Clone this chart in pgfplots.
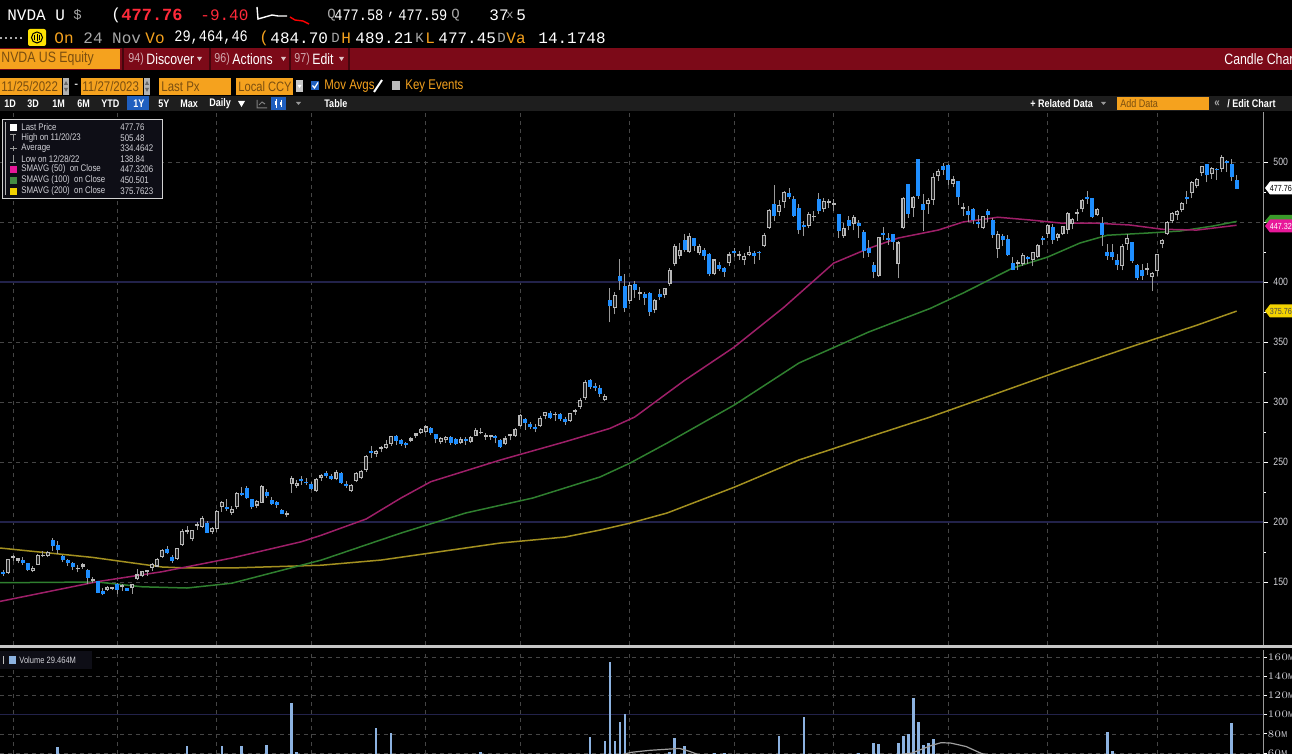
\documentclass[border=0pt]{standalone}
\usepackage{pgfplots}
\pgfplotsset{compat=1.18}
\usepackage{pgfplotstable}
\usepackage{fontspec}
\setmainfont{Liberation Sans}
\newfontfamily\nar{Liberation Sans}[FakeStretch=0.82]
\newfontfamily\mono{Liberation Mono}
\newfontfamily\monoc{Liberation Mono}[FakeStretch=0.85]
\newcommand\fs[1]{\fontsize{#1}{#1}\selectfont}
\newcommand\tx[4]{\node[anchor=west,inner sep=0pt,text=#2,font=#3] at (#1) {#4};}

\definecolor{bbred}{HTML}{7C0A18}
\definecolor{bbor}{HTML}{F5A21E}
\definecolor{bbortxt}{HTML}{7A4E10}
\definecolor{pxred}{HTML}{FF2A3A}
\definecolor{lbl}{HTML}{D2D2D8}
\definecolor{dimg}{HTML}{A8A8A8}
\definecolor{tbar}{HTML}{1E1E1E}
\definecolor{selblue}{HTML}{1F5FBF}
\definecolor{cblue}{HTML}{1E8EFF}
\definecolor{upc}{HTML}{B8B8B8}
\definecolor{upin}{HTML}{262626}
\definecolor{wickc}{HTML}{9A9A9A}
\definecolor{smaA}{HTML}{9E1F68}
\definecolor{smaB}{HTML}{2F7F2F}
\definecolor{smaC}{HTML}{A39020}
\definecolor{gridc}{HTML}{454545}
\definecolor{navyc}{HTML}{22224A}
\definecolor{volc}{HTML}{8CB2E0}
\definecolor{axc}{HTML}{9A9A9A}
\definecolor{magtag}{HTML}{E8189A}
\definecolor{grntag}{HTML}{3A9A2A}
\definecolor{yeltag}{HTML}{F2D200}
\definecolor{legbg}{HTML}{0E0E16}

\pgfplotstableread{
i o h l c
0 162.0 164.5 160.5 163.2
1 162.5 164.0 157.5 158.3
2 158.6 159.8 155.2 156.8
3 157.5 169.5 156.5 169.2
4 170.0 172.6 167.3 171.0
5 167.5 170.4 165.5 169.6
6 168.0 170.5 164.5 166.1
7 165.9 166.2 159.0 160.4
8 159.0 163.5 158.0 161.9
9 164.5 173.6 164.0 172.9
10 171.5 176.0 170.8 172.6
11 172.0 175.8 170.5 175.2
12 185.0 187.0 176.0 180.1
13 180.5 184.0 173.0 176.5
14 171.5 172.5 166.5 168.5
15 168.0 169.5 163.5 165.8
16 166.0 167.0 160.0 162.3
17 160.5 164.5 158.0 161.6
18 162.5 166.0 161.0 164.9
19 160.0 160.5 148.5 153.4
20 150.5 154.3 149.0 152.1
21 150.7 150.9 140.5 141.2
22 142.2 145.0 138.8 140.4
23 143.0 147.0 142.3 146.0
24 144.0 146.2 143.0 146.1
25 148.5 149.0 140.3 143.2
26 145.7 148.5 142.5 147.5
27 144.9 145.2 142.3 142.6
28 144.7 148.7 140.3 148.6
29 152.8 160.6 151.4 156.3
30 155.1 159.2 154.2 159.1
31 158.3 160.1 155.1 160.0
32 162.0 166.0 159.0 165.1
33 162.9 169.6 162.7 169.0
34 170.8 177.8 170.0 177.0
35 177.7 180.2 173.0 173.8
36 171.0 172.5 165.9 167.7
37 169.4 178.6 168.2 178.4
38 180.9 193.8 180.3 192.6
39 191.6 196.9 189.7 192.0
40 185.5 193.5 183.8 193.2
41 197.0 199.9 193.5 197.5
42 196.0 204.7 195.0 203.7
43 199.4 200.8 190.8 191.0
44 191.6 196.0 189.6 195.4
45 194.5 210.0 192.0 209.4
46 212.5 217.8 208.7 217.0
47 212.0 219.0 209.2 211.0
48 207.5 213.0 206.0 211.0
49 212.3 225.4 210.6 224.5
50 223.1 229.0 222.0 222.9
51 228.5 230.0 219.0 220.0
52 219.0 219.5 210.5 212.7
53 213.7 218.0 211.6 217.8
54 216.1 231.0 215.8 229.7
55 225.4 227.2 220.4 222.0
56 218.0 221.0 214.2 214.7
57 216.8 217.6 211.5 213.9
58 210.0 211.0 206.3 206.6
59 205.5 209.4 203.8 207.5
60 232.0 238.0 224.0 236.6
61 230.0 235.0 228.5 232.9
62 236.0 238.6 231.2 234.4
63 233.0 237.0 231.0 232.2
64 232.0 233.0 226.5 227.8
65 225.5 236.5 225.0 236.0
66 236.5 240.0 234.0 239.0
67 240.5 242.5 237.0 238.0
68 238.5 240.2 235.0 236.0
69 235.5 243.0 234.8 241.5
70 241.0 242.0 232.0 232.9
71 232.0 234.0 228.0 229.6
72 226.0 232.0 225.0 230.5
73 234.0 241.5 233.0 240.6
74 237.0 243.5 235.5 242.3
75 243.5 256.0 242.0 255.4
76 259.5 263.0 253.5 257.3
77 256.5 260.0 254.0 259.0
78 261.0 263.0 258.0 261.9
79 262.0 268.0 261.0 264.7
80 265.0 272.0 263.5 271.9
81 272.0 272.5 264.0 267.8
82 268.0 269.5 263.5 265.3
83 266.0 267.0 262.0 264.1
84 267.5 270.5 266.5 269.8
85 272.0 274.5 270.0 273.8
86 274.5 278.5 273.5 277.8
87 275.0 281.0 274.0 279.6
88 278.5 279.5 272.5 274.5
89 273.0 273.5 265.5 268.8
90 266.5 271.0 265.0 270.4
91 268.0 271.5 266.0 270.5
92 271.0 272.0 264.5 266.0
93 269.0 270.0 264.0 265.0
94 266.0 270.5 265.0 269.5
95 269.0 270.5 264.5 267.9
96 267.0 272.0 266.0 270.5
97 272.0 278.0 271.5 276.5
98 274.0 278.5 273.0 274.9
99 271.0 274.0 268.5 271.5
100 271.0 272.0 268.5 271.0
101 271.0 272.5 265.5 270.4
102 268.5 269.0 261.5 262.4
103 265.0 271.5 264.0 269.6
104 272.0 273.5 268.0 272.3
105 272.0 278.0 271.0 277.5
106 280.0 290.0 279.0 289.1
107 285.5 286.5 277.0 282.6
108 281.5 283.5 277.5 278.8
109 278.0 282.0 275.0 277.5
110 280.0 288.5 279.0 287.0
111 288.5 292.0 285.5 291.5
112 291.0 292.5 285.5 286.7
113 289.0 291.5 284.0 290.1
114 290.0 291.0 284.5 285.5
115 286.0 287.5 281.0 283.4
116 284.0 291.0 283.5 290.6
117 292.0 294.5 289.0 293.1
118 296.0 303.0 294.0 301.8
119 303.0 318.0 302.0 316.8
120 318.0 319.0 311.0 312.6
121 312.5 316.0 309.5 311.8
122 312.0 314.0 304.5 306.9
123 302.0 307.0 300.5 305.4
124 385.0 394.8 366.3 379.8
125 378.0 392.0 373.0 389.5
126 405.0 419.4 393.0 401.1
127 397.0 407.0 375.0 378.3
128 384.0 400.0 382.0 397.7
129 398.0 401.0 386.5 393.3
130 390.0 396.0 385.0 391.7
131 390.0 391.5 381.0 386.5
132 391.0 391.5 372.0 374.8
133 377.0 386.0 374.0 385.1
134 390.0 394.5 385.0 387.7
135 389.0 395.0 386.5 394.8
136 398.5 411.5 397.0 410.2
137 415.0 431.5 413.0 430.0
138 422.0 432.5 419.5 426.5
139 435.0 440.0 425.0 426.9
140 425.0 440.5 424.0 438.1
141 436.5 437.0 426.0 430.3
142 424.0 432.0 422.5 430.3
143 426.5 428.5 418.5 422.1
144 423.0 424.0 405.0 406.3
145 407.0 419.0 405.5 418.8
146 414.0 417.0 409.0 411.2
147 411.5 412.5 404.5 408.2
148 415.5 425.0 413.0 423.0
149 425.2 428.5 420.5 424.1
150 421.5 426.0 418.5 423.0
151 418.0 424.5 414.5 421.8
152 422.5 430.0 421.5 425.0
153 424.0 426.0 415.0 421.8
154 424.5 426.0 418.5 424.0
155 430.0 441.0 429.0 439.0
156 445.0 461.0 444.0 459.8
157 465.0 480.9 451.0 454.7
158 458.0 468.0 455.0 464.6
159 467.0 476.0 462.0 474.9
160 474.5 478.0 469.0 470.8
161 469.0 471.5 454.0 455.2
162 462.0 465.0 440.0 443.1
163 447.5 451.0 438.0 446.1
164 447.0 458.0 445.0 456.8
165 454.0 459.0 451.0 454.5
166 469.0 474.0 456.5 459.0
167 461.0 470.0 458.0 467.5
168 466.0 469.0 462.0 467.3
169 464.6 469.0 459.0 465.1
170 456.5 456.6 437.0 442.7
171 438.0 449.0 437.0 445.2
172 452.0 455.0 443.0 446.8
173 448.0 456.0 443.0 454.2
174 449.0 452.0 437.0 446.6
175 442.0 443.0 420.0 425.5
176 428.0 435.0 421.0 423.9
177 414.0 417.0 403.0 408.6
178 404.9 437.9 404.6 437.5
179 441.0 446.0 435.0 439.4
180 435.0 441.0 431.0 434.9
181 440.0 440.0 427.0 433.4
182 415.0 434.0 403.1 433.0
183 444.9 470.6 444.0 469.7
184 482.0 482.0 453.3 456.7
185 462.0 472.0 454.0 471.2
186 502.2 502.7 469.3 471.6
187 465.3 473.0 442.3 460.2
188 464.9 470.0 457.0 468.4
189 468.3 490.5 464.5 487.8
190 488.0 494.0 484.0 492.6
191 497.0 499.6 489.5 493.6
192 497.6 498.0 481.0 485.1
193 482.0 488.0 479.0 485.5
194 484.0 484.5 464.5 470.6
195 461.0 466.0 455.0 462.4
196 459.0 463.0 450.0 455.7
197 461.0 461.5 448.0 451.8
198 450.0 455.5 445.0 448.7
199 445.0 455.0 444.0 454.9
200 459.5 461.0 450.0 455.8
201 452.0 453.0 437.0 439.0
202 427.5 442.5 420.0 439.7
203 438.0 439.7 430.0 435.2
204 436.0 439.0 422.0 422.4
205 415.8 421.0 409.8 410.2
206 415.0 418.0 410.0 416.1
207 415.0 424.0 413.5 422.2
208 421.0 422.0 415.0 419.1
209 418.0 425.0 413.0 424.7
210 421.0 432.0 420.0 430.9
211 436.0 438.0 431.0 435.0
212 440.3 448.0 437.0 447.8
213 446.0 448.0 432.0 435.2
214 437.0 441.0 434.0 440.4
215 440.0 447.0 439.0 446.9
216 443.0 458.7 440.0 457.6
217 448.0 453.0 444.0 452.7
218 457.0 461.0 451.0 458.0
219 461.0 469.0 458.0 468.1
220 470.0 476.1 465.0 469.4
221 470.0 470.0 453.0 454.6
222 456.0 462.0 455.0 461.0
223 449.0 454.0 430.0 439.4
224 425.0 432.0 418.5 422.0
225 425.0 432.0 418.0 421.0
226 418.0 423.0 410.0 413.9
227 413.0 432.0 409.8 429.8
228 432.0 440.0 427.0 436.6
229 433.0 433.0 416.0 417.8
230 414.0 415.0 401.5 403.3
231 410.0 415.0 402.0 405.0
232 410.0 416.0 406.0 411.6
233 404.0 408.0 392.3 407.8
234 408.8 423.5 405.0 423.3
235 431.7 436.0 428.0 435.1
236 440.2 450.5 439.0 450.1
237 451.0 458.0 449.0 457.5
238 456.0 460.0 452.0 459.6
239 460.0 467.0 458.0 465.7
240 470.0 476.0 465.0 469.5
241 474.0 484.0 470.0 483.4
242 480.0 487.0 478.0 486.2
243 491.0 497.0 488.0 496.6
244 498.0 498.0 483.0 488.9
245 490.0 496.0 486.0 494.8
246 494.0 495.0 485.0 493.0
247 494.5 505.5 491.5 504.1
248 501.0 502.0 491.5 499.4
249 498.7 502.4 484.5 487.2
250 484.7 489.2 477.5 477.8
}\ohlc

\pgfplotstableread{
i v
1 133.5
21 150.3
34 158.6
48 170.0
62 183.6
66 189.0
75 202.5
82 220.0
88 233.6
102 251.7
115 266.9
124 278.0
129 287.5
139 318.0
149 345.8
159 379.0
169 415.8
176 428.0
182 436.7
190 443.3
195 450.0
202 454.0
208.5 451.7
215 449.0
222 449.0
228.6 447.5
235 444.0
242 443.3
250 447.32
}\smaAtab

\pgfplotstableread{
i v
1 149.4
21 150.0
30 146.0
39 145.0
48 149.0
66 168.3
82 190.8
95 207.5
108.5 220.0
122 237.5
128 249.0
135.5 265.8
149 297.5
162 332.5
176 358.3
188.4 378.0
195 390.8
205 411.7
212 420.8
218.5 432.5
224 439.0
232 440.8
238.6 442.5
245.3 446.7
250 450.5
}\smaBtab

\pgfplotstableread{
i v
1 178.5
20 170.5
34 162.5
39 161.7
48 161.7
66 164.0
78 168.3
102 182.5
115 187.5
122 193.3
128 199.0
135.5 207.5
149 229.0
162 251.7
176 270.8
188.4 287.5
202 307.5
215 326.7
228.6 345.8
242 364.0
250 375.76
}\smaCtab

\pgfplotstableread{
i v
13 66.8
39 67
46 67
50 67.6
55 69
60 112.5
61 61
77 86
80 80.7
98 61.6
120 76.6
123 73
124 155
125 72.6
126 92.8
127 100.8
136 61.5
137 76
139 67.5
145 60.5
147 60.5
158 78
163 97.7
174 60.5
177 70.6
178 69.5
182 70.6
183 78
184 80
185 117
186 92.5
187 69
188 70.6
189 74.8
224 82
225 62.5
249 91.5
}\voltab

\pgfplotstableread{
i v
100 50
120 53
126 58
128.4 61
132 63
135 64
138 65
140 62
142 58
150 54
170 52
184.6 60
186.6 64
188.6 68
190.6 71
192.6 70.5
195.6 67
198.6 60
200.6 57
215 52
250 50
}\volavg

\begin{document}
\begin{tikzpicture}[x=0.5pt,y=-0.5pt]
\useasboundingbox (0,0) rectangle (1292,754);
\clip (0,0) rectangle (1292,754);
\fill[black] (0,0) rectangle (1292,754);

% ---------- header line 1
\tx{7,15}{white}{\mono\fs{8}}{NVDA U}
\tx{73,15}{dimg}{\mono\fs{7}}{\$}
\tx{111,15}{white}{\mono\fs{8}}{(}
\tx{121,15}{pxred}{\mono\bfseries\fs{8.5}}{477.76}
\tx{200,15}{pxred}{\mono\fs{8}}{-9.40}
\draw[white, line width=0.7pt] (257,7) -- (258,19) -- (265,17) -- (272,15) -- (278,16) -- (287,16);
\draw[red, line width=0.7pt] (290,17) -- (295,20) -- (303,21) -- (309,24);
\tx{327,15}{dimg}{\mono\fs{7}}{Q}
\tx{334,15}{white}{\monoc\fs{8}}{477.58}
\tx{387,15}{white}{\monoc\fs{8}}{,}
\tx{398,15}{white}{\monoc\fs{8}}{477.59}
\tx{451,15}{dimg}{\mono\fs{7}}{Q}
\tx{489,15}{white}{\mono\fs{8}}{37}
\tx{506,15}{dimg}{\mono\fs{6}}{x}
\tx{516,15}{white}{\mono\fs{8}}{5}

% ---------- header line 2
\draw[dimg, line width=1.2pt, dash pattern=on 1pt off 1.5pt] (0,38) -- (25,38);
\fill[yellow!85!orange, rounded corners=1pt] (28,29) rectangle (46,46);
\draw[black, line width=0.5pt] (37,37.5) circle (5.5);
\draw[black, line width=0.5pt] (34.5,35)--(34.5,40) (37,34)--(37,41) (39.5,35)--(39.5,40);
\tx{54,38}{bbor}{\mono\fs{8}}{On}
\tx{83,38}{dimg}{\mono\fs{8}}{24 Nov}
\tx{145,38}{bbor}{\mono\fs{8}}{Vo}
\tx{174,38}{white}{\monoc\fs{8}}{29,464,46}
\tx{259,38}{bbor}{\mono\fs{8}}{(}
\tx{270,38}{white}{\mono\fs{8}}{484.70}
\tx{331,38}{dimg}{\mono\fs{7}}{D}
\tx{341,38}{bbor}{\mono\fs{8}}{H}
\tx{355,38}{white}{\mono\fs{8}}{489.21}
\tx{415,38}{dimg}{\mono\fs{7}}{K}
\tx{425,38}{bbor}{\mono\fs{8}}{L}
\tx{438,38}{white}{\mono\fs{8}}{477.45}
\tx{497,38}{dimg}{\mono\fs{7}}{D}
\tx{506,38}{bbor}{\mono\fs{8}}{Va}
\tx{538,38}{white}{\mono\fs{8}}{14.1748}

% ---------- red bar
\fill[bbred] (0,48) rectangle (1292,70);
\fill[bbor] (0,49) rectangle (120,69);
\tx{1,59}{bbortxt}{\nar\fs{7.5}}{NVDA US Equity}
\draw[black!45!bbred, line width=1pt] (123,48)--(123,70) (210,48)--(210,70) (290,48)--(290,70) (349,48)--(349,70);
\tx{128,59}{white!65!bbred}{\nar\fs{6.5}}{94)}
\tx{146,59}{white}{\nar\fs{7.5}}{Discover}
\fill[white!75!bbred] (197,57) -- (202,57) -- (199.5,61) -- cycle;
\tx{214,59}{white!65!bbred}{\nar\fs{6.5}}{96)}
\tx{232,59}{white}{\nar\fs{7.5}}{Actions}
\fill[white!75!bbred] (281,57) -- (286,57) -- (283.5,61) -- cycle;
\tx{294,59}{white!65!bbred}{\nar\fs{6.5}}{97)}
\tx{312,59}{white}{\nar\fs{7.5}}{Edit}
\fill[white!75!bbred] (339,57) -- (344,57) -- (341.5,61) -- cycle;
\tx{1224,59}{white}{\nar\fs{7.5}}{Candle Chart}

% ---------- row 3
\fill[bbor] (0,78) rectangle (62,95); \tx{1,86.5}{bbortxt}{\nar\fs{7}}{11/25/2022}
\fill[gray!60] (63,78) rectangle (69,95);
\fill[black!60] (64,85) -- (68,85) -- (66,81) -- cycle; \fill[black!60] (64,88) -- (68,88) -- (66,92) -- cycle;
\tx{74,86.5}{white}{\nar\fs{7}}{-}
\fill[bbor] (81,78) rectangle (143,95); \tx{82,86.5}{bbortxt}{\nar\fs{7}}{11/27/2023}
\fill[gray!60] (144,78) rectangle (150,95);
\fill[black!60] (145,85) -- (149,85) -- (147,81) -- cycle; \fill[black!60] (145,88) -- (149,88) -- (147,92) -- cycle;
\fill[bbor] (159,78) rectangle (231,95); \tx{161,86.5}{bbortxt}{\nar\fs{7}}{Last Px}
\fill[bbor] (236,78) rectangle (293,95); \tx{238,86.5}{bbortxt}{\nar\fs{6.8}}{Local CCY}
\fill[gray!45] (296,80) rectangle (303,92);
\fill[white] (297.5,85) -- (301.5,85) -- (299.5,88) -- cycle;
\fill[selblue] (311,81) rectangle (319,90);
\draw[white, line width=0.6pt] (312.5,85.5)--(314.5,88)--(318,82.5);
\tx{324,86.5}{bbor}{\nar\fs{7}}{Mov Avgs}
\draw[white, line width=1pt] (374,92)--(382,80);
\fill[gray!55] (392,81) rectangle (400,90);
\tx{405,86.5}{bbor}{\nar\fs{7}}{Key Events}

% ---------- row 4 toolbar
\fill[tbar] (0,96) rectangle (1292,111);
\tx{4,104}{white}{\nar\bfseries\fs{5.5}}{1D}
\tx{27,104}{white}{\nar\bfseries\fs{5.5}}{3D}
\tx{52,104}{white}{\nar\bfseries\fs{5.5}}{1M}
\tx{77,104}{white}{\nar\bfseries\fs{5.5}}{6M}
\tx{101,104}{white}{\nar\bfseries\fs{5.5}}{YTD}
\fill[selblue] (127,96.5) rectangle (149,110.5);
\tx{133,104}{white}{\nar\bfseries\fs{5.5}}{1Y}
\tx{158,104}{white}{\nar\bfseries\fs{5.5}}{5Y}
\tx{180,104}{white}{\nar\bfseries\fs{5.5}}{Max}
\tx{209,104}{white}{\nar\bfseries\fs{5.5}}{Daily}
\fill[white] (238,101) -- (245,101) -- (241.5,107) -- cycle;
\draw[gray, line width=0.5pt] (257,100)--(257,108)--(267,108) (259,105)--(262,102)--(265,104);
\fill[selblue] (271,97) rectangle (286,110);
\draw[white, line width=0.4pt] (276,99)--(276,108) (281,100)--(281,107);
\fill[white] (275,101) rectangle (277,105); \fill[white] (280,102) rectangle (282,105);
\fill[gray!80] (296,102) -- (301,102) -- (298.5,105) -- cycle;
\tx{324,104}{white}{\nar\bfseries\fs{5.5}}{Table}
\tx{1030,104}{white}{\nar\bfseries\fs{5.5}}{+ Related Data}
\fill[gray!80] (1101,102) -- (1106,102) -- (1103.5,105) -- cycle;
\fill[bbor] (1117,97) rectangle (1209,110);
\tx{1120,104}{bbortxt}{\nar\fs{5.5}}{Add Data}
\tx{1214,104}{dimg}{\nar\bfseries\fs{6}}{«}
\tx{1227,104}{white}{\nar\bfseries\fs{5.5}}{/ Edit Chart}

% ---------- price panel
\begin{axis}[
  at={(0pt,-56pt)}, anchor=north west, scale only axis,
  width=631.5pt, height=266.5pt,
  xmin=1.39, xmax=255.3, ymin=97.5, ymax=541.7,
  axis x line=none, axis y line*=right,
  y axis line style={draw=axc, line width=0.5pt},
  ytick={150,200,250,300,350,400,450,500},
  yticklabels={150,200,250,300,350,400,,500},
  minor ytick={175,225,275,325,375,425,475},
  ymajorgrids,
  major grid style={draw=gridc, line width=0.45pt, dash pattern=on 2pt off 2pt},
  tick align=outside, major tick length=2.5pt, minor tick length=1.5pt,
  tick style={draw=white, line width=0.5pt},
  yticklabel style={font=\nar\fs{5.3}, text=lbl, xshift=-0.8pt},
  clip=true,
]
\pgfplotsinvokeforeach{4,25,45,64,87,106,128,149,169,192,212,234}{
  \draw[gridc, line width=0.45pt, dash pattern=on 2pt off 2pt] (axis cs:#1,97.5) -- (axis cs:#1,541.7);
}
\draw[navyc, line width=0.7pt] (axis cs:1.39,200) -- (axis cs:255.3,200);
\draw[navyc, line width=0.7pt] (axis cs:1.39,400) -- (axis cs:255.3,400);

\addplot[smaC, line width=0.75pt, mark=none] table[x=i,y=v] {\smaCtab};
\addplot[smaB, line width=0.75pt, mark=none] table[x=i,y=v] {\smaBtab};
\addplot[smaA, line width=0.75pt, mark=none] table[x=i,y=v] {\smaAtab};

% wicks
\addplot[draw=none, mark=none, forget plot,
  error bars/.cd, y dir=plus, y explicit, error mark=none,
  error bar style={draw=wickc, line width=0.45pt}]
  table[x=i, y=l, y error plus expr={\thisrow{h}-\thisrow{l}}] {\ohlc};
% up bodies
\addplot[draw=none, mark=none, forget plot,
  error bars/.cd, y dir=plus, y explicit, error mark=none,
  error bar style={draw=upc, line width=2pt}]
  table[x=i, y expr={\thisrow{c}>=\thisrow{o} ? \thisrow{o} : nan},
        y error plus expr={max(\thisrow{c}-\thisrow{o},1.4)}] {\ohlc};
\addplot[draw=none, mark=none, forget plot,
  error bars/.cd, y dir=plus, y explicit, error mark=none,
  error bar style={draw=upin, line width=0.8pt}]
  table[x=i, y expr={\thisrow{c}-\thisrow{o}>2.4 ? \thisrow{o}+0.9 : nan},
        y error plus expr={\thisrow{c}-\thisrow{o}-1.8}] {\ohlc};
% down bodies
\addplot[draw=none, mark=none, forget plot,
  error bars/.cd, y dir=plus, y explicit, error mark=none,
  error bar style={draw=cblue, line width=2pt}]
  table[x=i, y expr={\thisrow{c}<\thisrow{o} ? \thisrow{c} : nan},
        y error plus expr={max(\thisrow{o}-\thisrow{c},1.4)}] {\ohlc};
\end{axis}

% ---------- separator
\fill[gray!45] (0,645) rectangle (1292,647.5);

% ---------- volume panel
\begin{axis}[
  at={(0pt,-325pt)}, anchor=north west, scale only axis,
  width=631.5pt, height=52pt,
  xmin=1.39, xmax=255.3, ymin=59.2, ymax=167.3,
  axis x line=none, axis y line*=right,
  y axis line style={draw=axc, line width=0.5pt},
  ytick={60,80,100,120,140,160},
  yticklabel={\pgfmathprintnumber{\tick}M},
  ymajorgrids,
  major grid style={draw=gridc, line width=0.45pt, dash pattern=on 2pt off 2pt},
  tick align=outside, major tick length=2pt,
  tick style={draw=white, line width=0.5pt},
  yticklabel style={font=\nar\fs{4.3}, text=lbl, xshift=-3.2pt},
  clip=true,
]
\pgfplotsinvokeforeach{4,25,45,64,87,106,128,149,169,192,212,234}{
  \draw[gridc, line width=0.45pt, dash pattern=on 2pt off 2pt] (axis cs:#1,59.2) -- (axis cs:#1,167.3);
}
\draw[navyc, line width=0.7pt] (axis cs:1.39,100) -- (axis cs:255.3,100);
\addplot[ycomb, draw=volc, line width=1.3pt, mark=none] table[x=i,y=v] {\voltab};
\addplot[draw=gray!75, line width=0.6pt, mark=none] table[x=i,y=v] {\volavg};
\end{axis}

\fill[legbg] (0,651) rectangle (92,669);
\draw[gray!50, line width=0.4pt] (3,656)--(3,664);
\fill[volc] (9,656) rectangle (16,664);
\tx{19,660}{lbl}{\nar\fs{4.6}}{Volume 29.464M}

% ---------- right-side value tags
\fill[white] (1265,188) -- (1270,181.5) -- (1292,181.5) -- (1292,194.5) -- (1270,194.5) -- cycle;
\tx{1269.5,188}{black}{\nar\fs{4.4}}{477.76}
\fill[grntag] (1265,221) -- (1270,215) -- (1292,215) -- (1292,227) -- (1270,227) -- cycle;
\fill[magtag] (1265,226) -- (1270,219.5) -- (1292,219.5) -- (1292,232.5) -- (1270,232.5) -- cycle;
\tx{1269.5,226}{white}{\nar\fs{4.4}}{447.32}
\fill[yeltag] (1265,311) -- (1270,304.5) -- (1292,304.5) -- (1292,317.5) -- (1270,317.5) -- cycle;
\tx{1269.5,311}{black!70}{\nar\fs{4.4}}{375.76}

% ---------- legend box
\fill[legbg] (2,119) rectangle (162,198);
\draw[gray!35, line width=0.4pt] (2,119) rectangle (162,198);
\draw[gray!60, line width=0.4pt] (5,122)--(5,195);
\fill[white] (10,124) rectangle (17,131);
\draw[gray!80, line width=0.5pt] (10,134.5)--(16,134.5) (13,134.5)--(13,141.5);
\draw[gray!80, line width=0.5pt] (10,148.5)--(17,148.5) (13.5,146)--(13.5,151);
\draw[gray!80, line width=0.5pt] (13,155.5)--(13,162.5) (10,162.5)--(16,162.5);
\fill[magtag] (10,166) rectangle (17,173);
\fill[smaB!90!white] (10,177) rectangle (17,184);
\fill[yeltag] (10,188) rectangle (17,195);
\tx{21,127.5}{lbl}{\nar\fs{4.8}}{Last Price}
\tx{21,138}{lbl}{\nar\fs{4.8}}{High on 11/20/23}
\tx{21,148.5}{lbl}{\nar\fs{4.8}}{Average}
\tx{21,159}{lbl}{\nar\fs{4.8}}{Low on 12/28/22}
\tx{21,169.5}{lbl}{\nar\fs{4.8}}{SMAVG (50) \ on Close}
\tx{21,180.5}{lbl}{\nar\fs{4.8}}{SMAVG (100) \ on Close}
\tx{21,191.5}{lbl}{\nar\fs{4.8}}{SMAVG (200) \ on Close}
\tx{120,127.5}{lbl}{\nar\fs{4.8}}{477.76}
\tx{120,138}{lbl}{\nar\fs{4.8}}{505.48}
\tx{120,148.5}{lbl}{\nar\fs{4.8}}{334.4642}
\tx{120,159}{lbl}{\nar\fs{4.8}}{138.84}
\tx{120,169.5}{lbl}{\nar\fs{4.8}}{447.3206}
\tx{120,180.5}{lbl}{\nar\fs{4.8}}{450.501}
\tx{120,191.5}{lbl}{\nar\fs{4.8}}{375.7623}
\end{tikzpicture}
\end{document}
